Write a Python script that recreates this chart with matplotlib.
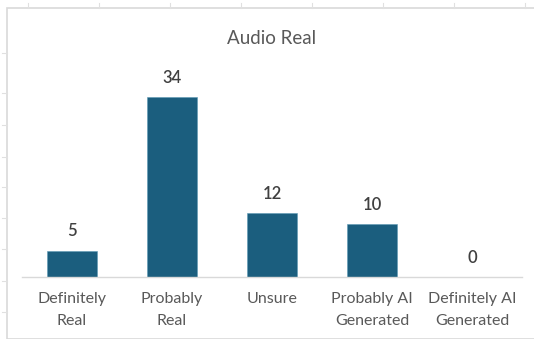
import matplotlib
matplotlib.use("Agg")
from matplotlib import pyplot as plt
from matplotlib.patches import Rectangle
from matplotlib.lines import Line2D

categories = ["Definitely\nReal", "Probably\nReal", "Unsure", "Probably AI\nGenerated", "Definitely AI\nGenerated"]
counts = [5, 34, 12, 10, 0]
title = "Audio Real"

bar_color = "#1b5e7e"
text_color = "#595959"

plt.rcParams['font.family'] = ['Lato', 'DejaVu Sans']

fig = plt.figure(figsize=(5.34, 3.39), dpi=100)
ax = fig.add_axes([22 / 534, 1 - 277 / 339, 500 / 534, 212 / 339])

x = range(len(categories))
rects = ax.bar(x, counts, width=0.5, color=bar_color, edgecolor="#5f9ab5", linewidth=0.4)

for rect, v in zip(rects, counts):
    ax.annotate('{}'.format(v),
                xy=(rect.get_x() + rect.get_width() / 2, rect.get_height()),
                xytext=(0, 8), textcoords="offset points",
                ha='center', va='bottom', fontsize=12, fontweight='semibold', color="#404040")

ax.set_xlim(-0.5, len(categories) - 0.5)
ax.set_ylim(0, 40)
ax.set_xticks(list(x))
ax.set_xticklabels(categories, fontsize=11.5, color=text_color, linespacing=1.7)
ax.tick_params(axis='x', length=0, pad=11)
ax.set_yticks([])
for s in ['top', 'right', 'left']:
    ax.spines[s].set_visible(False)
ax.spines['bottom'].set_color("#d9d9d9")
ax.spines['bottom'].set_linewidth(1)

fig.text(272 / 534, 1 - 38 / 339, title, ha='center', va='center', fontsize=13.5, color=text_color)

# chart frame and the faint sheet grid around it
fig.patches.append(Rectangle((7 / 534, 0), 1, 1 - 8 / 339, transform=fig.transFigure,
                             fill=False, edgecolor="#d9d9d9", linewidth=1.2))
for px in [28, 99, 170, 241, 312, 383, 454, 525]:
    fig.lines.append(Line2D([px / 534, px / 534], [1 - 3 / 339, 1 - 8 / 339],
                            transform=fig.transFigure, color="#e0e0e0", linewidth=0.8))
for py in [53, 93, 125, 157, 187, 218, 249, 281, 312]:
    fig.lines.append(Line2D([2 / 534, 7 / 534], [1 - py / 339, 1 - py / 339],
                            transform=fig.transFigure, color="#e0e0e0", linewidth=0.8))

fig.savefig("out.png", dpi=100)
